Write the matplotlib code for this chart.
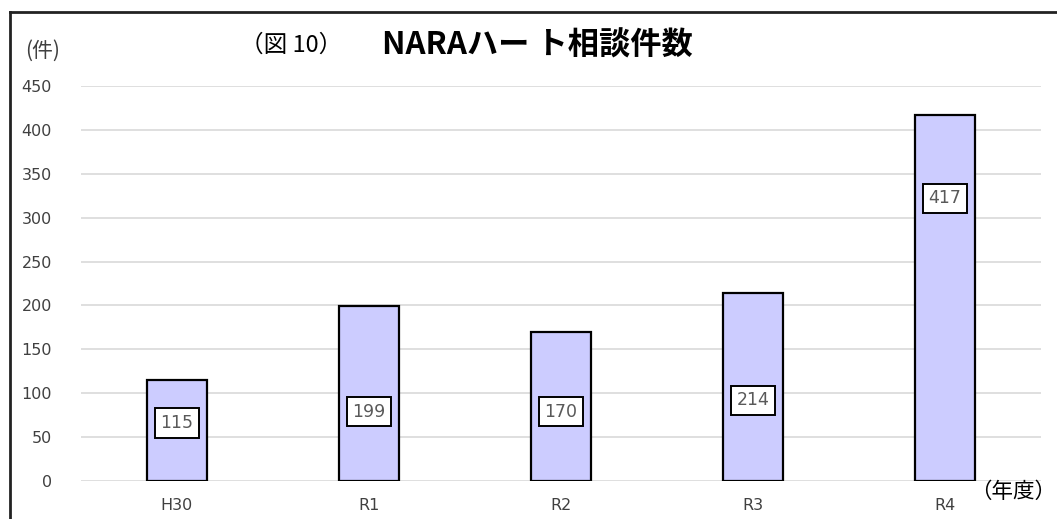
import matplotlib
matplotlib.use("Agg")
import matplotlib.pyplot as plt
from matplotlib.lines import Line2D

plt.rcParams['font.family'] = 'DejaVu Sans'
JP = ['Noto Sans CJK JP', 'DejaVu Sans']

# データ
years = ["H30", "R1", "R2", "R3", "R4"]
counts = [115, 199, 170, 214, 417]
# ラベルの表示位置(件数軸上)
label_pos = [66, 79, 79, 92, 322]

fig = plt.figure(figsize=(10.57, 5.19), dpi=100)
ax = fig.add_axes([0.0766, 0.0732, 0.9082, 0.761])

x = list(range(len(years)))
ax.bar(x, counts, width=0.317, color="#CCCCFF", edgecolor="black", linewidth=1.6, zorder=3)

for xi, v, yp in zip(x, counts, label_pos):
    ax.text(xi, yp, str(v), ha="center", va="center", fontsize=12.5, color="#595959", zorder=4,
            bbox=dict(boxstyle="square,pad=0.33", facecolor="white", edgecolor="black", linewidth=1.4))

ax.set_xlim(-0.5, 4.5)
ax.set_ylim(0, 450)
ax.set_yticks(range(0, 451, 50))
ax.set_xticks(x)
ax.set_xticklabels(years)
ax.grid(axis="y", color="#D9D9D9", linewidth=1.2, zorder=0)
ax.tick_params(axis="both", length=0, labelsize=11.5, labelcolor="#404040")
ax.tick_params(axis="y", pad=21)
ax.tick_params(axis="x", pad=12)
for s in ax.spines.values():
    s.set_visible(False)

# タイトル等
fig.text(0.227, 0.912, "（図 10）", fontsize=17, family=JP, va="center")
fig.text(0.361, 0.912, "NARAハー ト相談件数", fontsize=22.5, fontweight="bold",
         family=JP, va="center")
fig.text(0.024, 0.902, "(件)", fontsize=15, family=JP, color="#404040", va="center")
fig.text(0.999, 0.052, "（年度）", fontsize=15.5, family=JP, va="center", ha="right")

# 外枠
fig.add_artist(Line2D([0.0095, 1.0], [0.976, 0.976], color="#222222", linewidth=2, transform=fig.transFigure))
fig.add_artist(Line2D([0.0095, 0.0095], [0.0, 0.976], color="#222222", linewidth=2, transform=fig.transFigure))

fig.savefig("out.png", dpi=100)
